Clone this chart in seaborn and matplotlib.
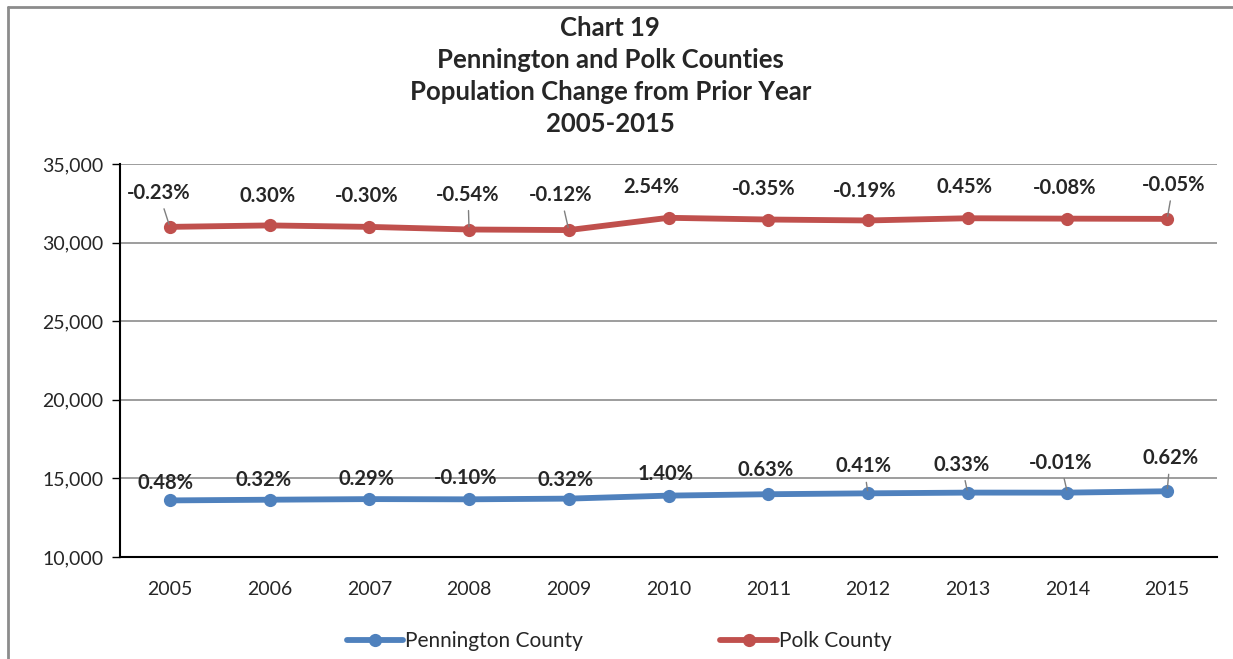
import pandas as pd
import numpy as np
import matplotlib.pyplot as plt
import seaborn as sns
from matplotlib.lines import Line2D

# Data
years = [2005, 2006, 2007, 2008, 2009, 2010, 2011, 2012, 2013, 2014, 2015]
pennington = [13600, 13644, 13683, 13669, 13713, 13905, 13993, 14050, 14096, 14095, 14182]
polk = [31000, 31093, 31000, 30833, 30796, 31578, 31468, 31408, 31549, 31524, 31508]
pennington_labels = ['0.48%', '0.32%', '0.29%', '-0.10%', '0.32%', '1.40%',
                     '0.63%', '0.41%', '0.33%', '-0.01%', '0.62%']
polk_labels = ['-0.23%', '0.30%', '-0.30%', '-0.54%', '-0.12%', '2.54%',
               '-0.35%', '-0.19%', '0.45%', '-0.08%', '-0.05%']
title_lines = ['Chart 19', 'Pennington and Polk Counties',
               'Population Change from Prior Year', '2005-2015']

# label offsets in pixels (dx, dy up) and whether a leader line is drawn
polk_offsets = [(-11, 34, True), (-2, 29, False), (-3, 31, False), (-1, 35, True),
                (-8, 35, True), (-17, 31, False), (-5, 31, False), (-3, 29, False),
                (-3, 31, False), (-3, 31, False), (6, 34, True)]
penn_offsets = [(-4, 17, False), (-6, 20, False), (-3, 20, False), (-3, 21, False),
                (-3, 19, False), (-3, 22, False), (-3, 24, False), (-4, 27, True),
                (-6, 28, True), (-7, 30, True), (3, 33, True)]

df = pd.DataFrame({
    'year': years * 2,
    'population': pennington + polk,
    'county': ['Pennington County'] * len(years) + ['Polk County'] * len(years),
})

sns.set_style('white')
plt.rcParams['font.family'] = ['Lato', 'DejaVu Sans']

blue = '#4F81BD'
red = '#C0504D'

fig = plt.figure(figsize=(12.33, 6.59), dpi=100)
ax = fig.add_axes([120 / 1233, 1 - 557 / 659, (1217 - 120) / 1233, (557 - 164) / 659])

sns.lineplot(data=df, x='year', y='population', hue='county',
             palette={'Pennington County': blue, 'Polk County': red},
             marker='o', markersize=9.5, markeredgewidth=0, linewidth=4.2,
             legend=False, ax=ax, zorder=3)

ax.set_xlim(2004.5, 2015.5)
ax.set_ylim(10000, 35000)
ax.set_yticks(np.arange(10000, 35001, 5000))
ax.set_yticklabels([f'{v:,}' for v in range(10000, 35001, 5000)], fontsize=14)
ax.set_xticks(years)
ax.set_xticklabels([str(y) for y in years], fontsize=14)
ax.tick_params(axis='x', length=0, pad=17)
ax.tick_params(axis='y', length=6, width=1, direction='out', left=True, pad=6, color='black')
ax.set_xlabel('')
ax.set_ylabel('')
ax.yaxis.grid(True, color='#8c8c8c', linewidth=1.2)
ax.set_axisbelow(True)
for side in ['top', 'right']:
    ax.spines[side].set_visible(False)
ax.spines['left'].set_color('black')
ax.spines['left'].set_linewidth(1.5)
ax.spines['bottom'].set_color('black')
ax.spines['bottom'].set_linewidth(1.5)
ax.spines['bottom'].set_zorder(4)

def add_labels(vals, labels, offsets):
    for yr, v, lab, (dx, dy, leader) in zip(years, vals, labels, offsets):
        arrow = None
        if leader:
            arrow = dict(arrowstyle='-', color='#7f7f7f', lw=1, shrinkA=2, shrinkB=2)
        ax.annotate(lab, xy=(yr, v), xytext=(dx, dy), textcoords='offset pixels',
                    ha='center', va='center', fontsize=14.5, fontweight='bold',
                    arrowprops=arrow, zorder=5)

add_labels(polk, polk_labels, polk_offsets)
add_labels(pennington, pennington_labels, penn_offsets)

# Title
for i, line in enumerate(title_lines):
    fig.text(0.495, 1 - (28 + 32 * i) / 659, line, ha='center', va='center',
             fontsize=18.5, fontweight='bold')

# Legend
handles = [Line2D([], [], color=blue, lw=4.2, marker='o', markersize=9.5, markeredgewidth=0),
           Line2D([], [], color=red, lw=4.2, marker='o', markersize=9.5, markeredgewidth=0)]
fig.legend(handles, ['Pennington County', 'Polk County'], loc='center',
           bbox_to_anchor=(619 / 1233, 1 - 641 / 659), ncol=2, frameon=False,
           fontsize=15, handlelength=2.7, handletextpad=0.1, columnspacing=6.6)

# Chart area border (top and left visible)
fig.add_artist(Line2D([8 / 1233, 8 / 1233], [0, 1 - 7 / 659], color='#8c8c8c', lw=2,
                      transform=fig.transFigure))
fig.add_artist(Line2D([8 / 1233, 1], [1 - 7 / 659, 1 - 7 / 659], color='#8c8c8c', lw=2,
                      transform=fig.transFigure))

fig.savefig('out.png', dpi=100)
